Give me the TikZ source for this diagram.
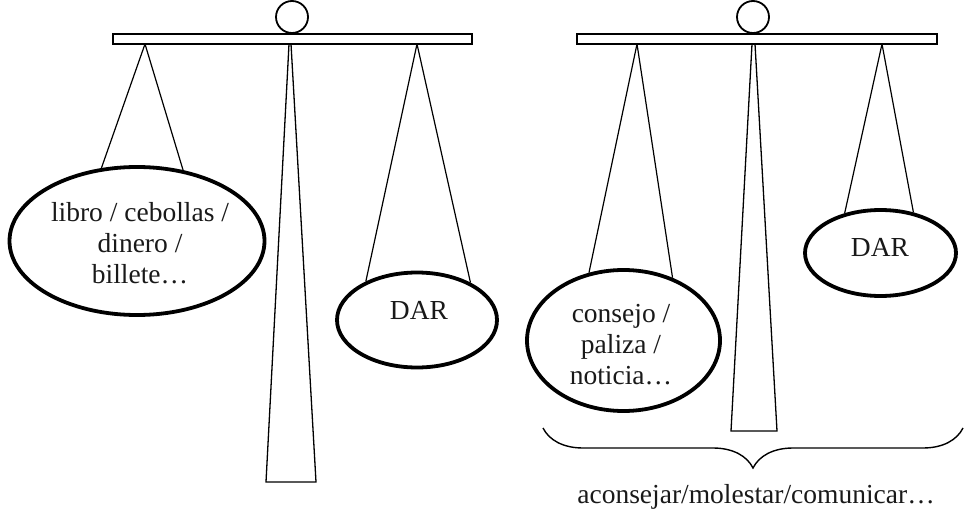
\documentclass[tikz,border=0pt]{standalone}
\usepackage{fontspec}
\setmainfont{Liberation Serif}
\usetikzlibrary{shapes.geometric,decorations.pathreplacing}

\begin{document}
\begin{tikzpicture}[x=1pt,y=-1pt,
  rope/.style={line width=1.2pt},
  pole/.style={draw, line width=1.3pt, fill=white, line join=miter},
  beam/.style={draw, line width=1.5pt, fill=white},
  pivot/.style={circle, draw, line width=1.8pt, fill=white, minimum size=32pt, inner sep=0pt},
  pan/.style={ellipse, draw, line width=3.8pt, fill=white, inner sep=0pt},
  word/.style={font=\fontsize{27.5}{31}\selectfont, align=center, text=black!90, inner sep=0pt},
  bracket/.style={decorate, decoration={brace, amplitude=40pt, mirror}, line width=1.4pt}
]
\useasboundingbox (0,0) rectangle (965,513);

% ---------- first balance ----------
\draw[pole] (289,44) -- (291,44) -- (316,482) -- (266,482) -- cycle;
\node[draw, beam, minimum width=359pt, minimum height=10pt, inner sep=0pt] (beamA) at (292.5,39) {};
\node[pivot] (pivA) at (292,17) {};
\coordinate (hookA1) at (145,44);
\coordinate (hookA2) at (417,44);

\node[pan, minimum width=255pt, minimum height=148pt] (panA1) at (137,241) {};
\node[word] (txtA1) at (140,243) {libro / cebollas /\\dinero /\\billete…};
\node[pan, minimum width=160pt, minimum height=95pt] (panA2) at (417,320) {};
\node[word] (txtA2) at (419,310) {DAR};

\draw[rope] (hookA1) -- (panA1.116);
\draw[rope] (hookA1) -- (panA1.57);
\draw[rope] (hookA2) -- (panA2.143);
\draw[rope] (hookA2) -- (panA2.35);

% ---------- second balance ----------
\draw[pole] (752,44) -- (755,44) -- (777,431) -- (731,431) -- cycle;
\node[draw, beam, minimum width=360pt, minimum height=10pt, inner sep=0pt] (beamB) at (757,39) {};
\node[pivot] (pivB) at (753,17) {};
\coordinate (hookB1) at (637,44);
\coordinate (hookB2) at (882,44);

\node[pan, minimum width=193pt, minimum height=141pt] (panB1) at (623.5,340.5) {};
\node[word] (txtB1) at (621,345) {consejo /\\paliza /\\noticia…};
\node[pan, minimum width=151pt, minimum height=86pt] (panB2) at (880.5,253) {};
\node[word] (txtB2) at (880,247) {DAR};

\draw[rope] (hookB1) -- (panB1.117);
\draw[rope] (hookB1) -- (panB1.52);
\draw[rope] (hookB2) -- (panB2.132);
\draw[rope] (hookB2) -- (panB2.51);

% ---------- grouping brace ----------
\coordinate (braceL) at (543,428);
\coordinate (braceR) at (963,428);
\draw[bracket] (braceL) -- (braceR);
\node[word] (verbs) at (756,497) {aconsejar/molestar/comunicar…};
\end{tikzpicture}
\end{document}
